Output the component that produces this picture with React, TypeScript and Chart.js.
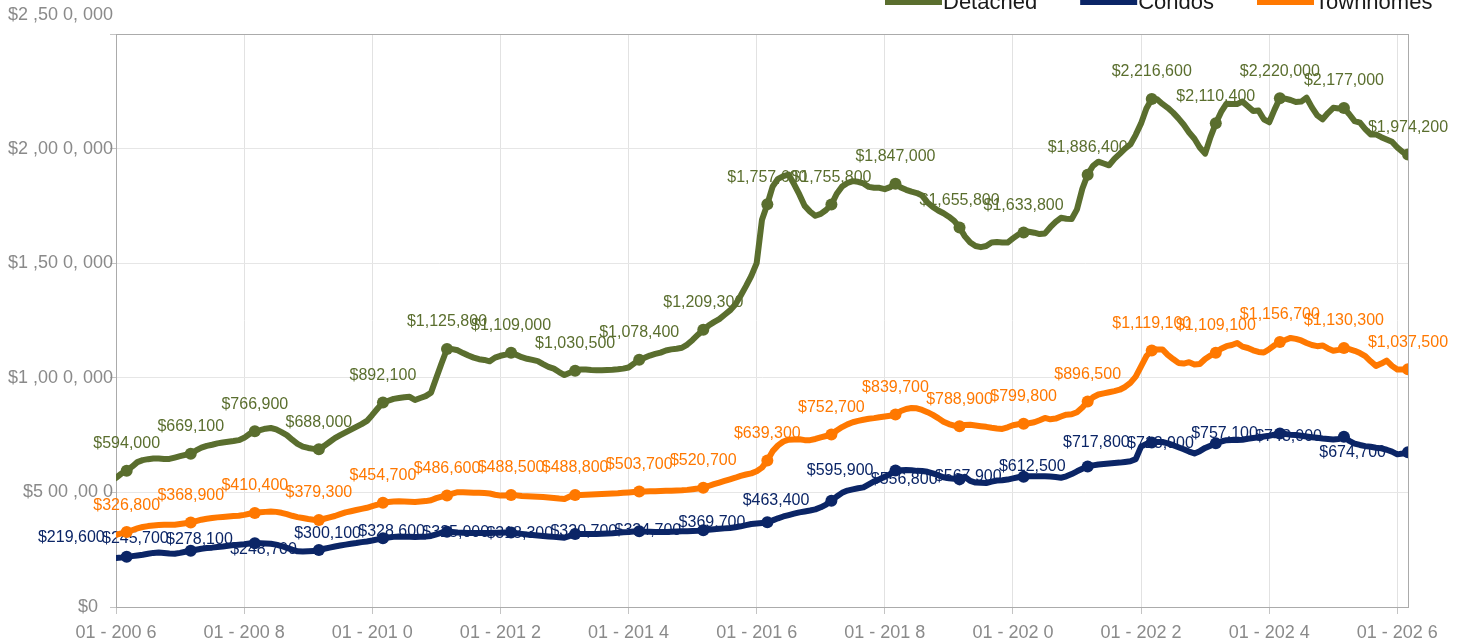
import React, { useEffect, useRef } from 'react';
import { Chart, registerables } from 'chart.js';

Chart.register(...registerables);

const FONT = '"Liberation Sans", Arial, Helvetica, sans-serif';

const SERIES_NAMES = ['Detached', 'Condos', 'Townhomes'];
const COLORS = ['#5a6e2e', '#0b2566', '#ff7800'];

// Monthly values, January 2006 .. March 2026
const DETACHED = [
  563000, 582000, 594000, 612000, 632000, 641000, 645000, 648000, 648000, 646000, 646000, 652000,
  658000, 664000, 669100, 683000, 695000, 703000, 708000, 714000, 718000, 721000, 724000, 728000,
  738000, 755000, 766900, 772000, 778000, 781000, 775000, 763000, 750000, 730000, 712000, 700000,
  694000, 690000, 688000, 703000, 720000, 737000, 750000, 762000, 774000, 786000, 798000, 812000,
  838000, 866000, 892100, 900000, 908000, 912000, 915000, 917000, 903000, 912000, 920000, 935000,
  1000000, 1065000, 1125800, 1125000, 1120000, 1108000, 1097000, 1088000, 1081000, 1078000, 1072000, 1088000,
  1096000, 1101000, 1109000, 1100000, 1090000, 1083000, 1078000, 1073000, 1060000, 1048000, 1040000, 1025000,
  1012000, 1022000, 1030500, 1036000, 1036000, 1034000, 1033000, 1033000, 1034000, 1035000, 1037000, 1040000,
  1045000, 1062000, 1078400, 1087000, 1097000, 1104000, 1110000, 1119000, 1124000, 1127000, 1131000, 1145000,
  1165000, 1188000, 1209300, 1228000, 1243000, 1256000, 1275000, 1294000, 1320000, 1358000, 1400000, 1445000,
  1500000, 1690000, 1757600, 1835000, 1868000, 1880000, 1887000, 1845000, 1800000, 1750000, 1725000, 1707000,
  1715000, 1732000, 1755800, 1803000, 1835000, 1850000, 1858000, 1855000, 1848000, 1833000, 1829000, 1829000,
  1823000, 1832000, 1847000, 1830000, 1820000, 1812000, 1806000, 1795000, 1765000, 1745000, 1730000, 1718000,
  1703000, 1685000, 1655800, 1617000, 1590000, 1575000, 1570000, 1575000, 1590000, 1592000, 1590000, 1590000,
  1608000, 1625000, 1633800, 1637000, 1633000, 1627000, 1630000, 1657000, 1680000, 1698000, 1694000, 1693000,
  1735000, 1825000, 1886400, 1925000, 1943000, 1935000, 1927000, 1955000, 1977000, 2000000, 2018000, 2060000,
  2110000, 2175000, 2216600, 2215000, 2195000, 2178000, 2157000, 2132000, 2104000, 2070000, 2043000, 2005000,
  1978000, 2050000, 2110400, 2160000, 2196000, 2195000, 2195000, 2205000, 2185000, 2164000, 2166000, 2128000,
  2115000, 2170000, 2220000, 2218000, 2212000, 2203000, 2205000, 2222000, 2180000, 2145000, 2128000, 2155000,
  2178000, 2175000, 2177000, 2150000, 2120000, 2113000, 2085000, 2062000, 2062000, 2050000, 2040000, 2030000,
  2005000, 1985000, 1974200,
];

const CONDOS = [
  213500, 216000, 219600, 222000, 225000, 228000, 232000, 236000, 238000, 236000, 233000, 232000,
  236000, 241000, 245700, 250000, 254000, 257000, 259000, 262000, 264000, 267000, 270000, 272000,
  274000, 277000, 278100, 278000, 277000, 276000, 272000, 266000, 258000, 250000, 243000, 242000,
  243000, 244000, 248700, 254000, 259000, 264000, 268000, 272000, 276000, 279000, 283000, 286000,
  290000, 295000, 300100, 303000, 306000, 308000, 307000, 306000, 305000, 306000, 307000, 310000,
  317000, 324000, 328600, 327000, 325000, 324000, 323000, 323000, 323000, 323000, 323000, 324000,
  324000, 325000, 325000, 322000, 319000, 316000, 314000, 312000, 310000, 308000, 306000, 304000,
  302000, 310000, 318300, 318000, 318000, 318000, 319000, 320000, 321000, 322000, 324000, 326000,
  327000, 329000, 330700, 329000, 328000, 327000, 327000, 327000, 328000, 329000, 330000, 331000,
  332000, 333000, 334700, 337000, 339000, 341000, 343000, 345000, 348000, 352000, 357000, 362000,
  364000, 366000, 369700, 378000, 387000, 395000, 401000, 407000, 413000, 417000, 421000, 426000,
  435000, 447000, 463400, 482000, 498000, 508000, 513000, 518000, 522000, 535000, 548000, 557000,
  568000, 580000, 595900, 597000, 598000, 597000, 594000, 593000, 590000, 583000, 575000, 566000,
  562000, 560000, 556800, 568000, 550000, 543000, 542000, 541000, 547000, 552000, 553000, 556000,
  561000, 566000, 567900, 570000, 570000, 570000, 570000, 569000, 567000, 564000, 570000, 580000,
  592000, 603000, 612500, 618000, 622000, 624000, 626000, 628000, 630000, 633000, 636000, 645000,
  700000, 712000, 717800, 720000, 720000, 714000, 706000, 697000, 688000, 678000, 670000, 680000,
  694000, 704000, 713900, 722000, 728000, 729000, 729000, 730000, 734000, 737000, 740000, 744000,
  747000, 752000, 757100, 755000, 752000, 750000, 747000, 744000, 741000, 738000, 735000, 733000,
  731000, 733000, 743000, 725000, 713000, 707000, 702000, 699000, 695000, 692000, 686000, 678000,
  666000, 670000, 674700,
];

const TOWNHOMES = [
  315000, 321000, 326800, 335000, 343000, 349000, 353000, 356000, 358000, 359000, 359000, 359000,
  362000, 365000, 368900, 375000, 381000, 385000, 388000, 391000, 393000, 395000, 397000, 398000,
  402000, 407000, 410400, 413000, 415000, 417000, 415000, 411000, 405000, 398000, 392000, 388000,
  384000, 381000, 379300, 385000, 391000, 397000, 405000, 413000, 418000, 423000, 428000, 433000,
  440000, 447000, 454700, 458000, 460000, 461000, 460000, 459000, 458000, 460000, 462000, 466000,
  475000, 482000, 486600, 495000, 501000, 501000, 500000, 499000, 498000, 497000, 495000, 490000,
  486000, 487000, 488500, 487000, 484000, 483000, 482000, 481000, 480000, 478000, 476000, 473000,
  471000, 482000, 488800, 489000, 490000, 491000, 492000, 493000, 494000, 495000, 496000, 498000,
  500000, 502000, 503700, 504000, 505000, 505000, 506000, 507000, 507000, 508000, 509000, 511000,
  514000, 517000, 520700, 528000, 536000, 543000, 550000, 557000, 564000, 572000, 578000, 583000,
  592000, 608000, 639300, 680000, 705000, 722000, 730000, 731000, 732000, 728000, 728000, 733000,
  740000, 746000, 752700, 770000, 785000, 797000, 806000, 812000, 817000, 821000, 824000, 828000,
  831000, 834000, 839700, 855000, 864000, 868000, 867000, 860000, 850000, 838000, 824000, 808000,
  798000, 791000, 788900, 794000, 795000, 792000, 789000, 786000, 782000, 779000, 777000, 784000,
  793000, 797000, 799800, 802000, 806000, 815000, 825000, 819000, 822000, 831000, 839000, 841000,
  850000, 870000, 896500, 915000, 927000, 932000, 937000, 942000, 948000, 960000, 978000, 1005000,
  1050000, 1095000, 1119100, 1124000, 1124000, 1100000, 1082000, 1065000, 1062000, 1068000, 1058000, 1060000,
  1082000, 1097000, 1109100, 1127000, 1138000, 1143000, 1152000, 1136000, 1130000, 1120000, 1113000, 1110000,
  1125000, 1142000, 1156700, 1165000, 1174000, 1170000, 1163000, 1152000, 1143000, 1138000, 1141000, 1128000,
  1118000, 1122000, 1130300, 1125000, 1118000, 1108000, 1095000, 1072000, 1052000, 1062000, 1075000, 1052000,
  1036000, 1036000, 1037500,
];

const X_TICK_LABELS = [
  '01 - 200 6', '01 - 200 8', '01 - 201 0', '01 - 201 2', '01 - 201 4', '01 - 201 6',
  '01 - 201 8', '01 - 202 0', '01 - 202 2', '01 - 202 4', '01 - 202 6',
];
const X_TICK_STEP = 24; // months between x ticks
const Y_TICK_VALUES = [0, 500000, 1000000, 1500000, 2000000, 2500000];
const Y_TICK_LABELS = ['$0   ', '$5 00 ,00 0', '$1 ,00 0, 000', '$1 ,50 0, 000', '$2 ,00 0, 000', '$2 ,50 0, 000'];
const LABEL_MONTH = 2; // March points carry a marker and a value label

const SERIES = [DETACHED, CONDOS, TOWNHOMES];
const LABEL_PLACEMENT = ['above', 'left', 'above'];
// small vertical nudges (px) for crowded condo labels at the start
const CONDO_LABEL_NUDGE: Record<number, number> = { 2: -19, 14: -12, 26: -4, 50: -5 };

const fmt = (v: number) => '$' + v.toLocaleString('en-US');

const framePlugin = {
  id: 'frame',
  beforeDatasetsDraw(chart: any) {
    const { ctx, chartArea: a } = chart;
    ctx.save();
    ctx.strokeStyle = '#ababab';
    ctx.lineWidth = 1;
    ctx.strokeRect(Math.round(a.left) + 0.5, Math.round(a.top) + 0.5, Math.round(a.right - a.left), Math.round(a.bottom - a.top));
    ctx.restore();
  },
};

const pointLabelPlugin = {
  id: 'pointLabels',
  beforeDatasetsDraw(chart: any) {
    const ctx = chart.ctx;
    ctx.save();
    ctx.font = `16px ${FONT}`;
    ctx.textBaseline = 'middle';
    SERIES.forEach((vals, di) => {
      const meta = chart.getDatasetMeta(di);
      meta.data.forEach((el: any, i: number) => {
        if (i % 12 !== LABEL_MONTH) return;
        const txt = fmt(vals[i]);
        ctx.fillStyle = COLORS[di];
        if (LABEL_PLACEMENT[di] === 'left') {
          ctx.textAlign = 'right';
          ctx.fillText(txt, el.x - 22, el.y + (CONDO_LABEL_NUDGE[i] || 0));
        } else {
          ctx.textAlign = 'center';
          ctx.fillText(txt, el.x, el.y - 27);
        }
      });
    });
    ctx.restore();
  },
};

const axisAndLegendPlugin = {
  id: 'axisAndLegend',
  afterDraw(chart: any) {
    const { ctx, chartArea } = chart;
    const ys = chart.scales.y;
    ctx.save();
    ctx.font = `18px ${FONT}`;
    ctx.fillStyle = '#8a8a8a';
    ctx.textAlign = 'right';
    ctx.textBaseline = 'middle';
    Y_TICK_VALUES.forEach((v, k) => {
      let y = ys.getPixelForValue(v);
      if (k === Y_TICK_VALUES.length - 1) y -= 19;
      ctx.fillText(Y_TICK_LABELS[k], chartArea.left - 3, y);
    });

    // legend (partly above the visible page, as in the reference)
    ctx.font = `22px ${FONT}`;
    ctx.textAlign = 'left';
    ctx.textBaseline = 'alphabetic';
    let x = 885;
    SERIES_NAMES.forEach((name, k) => {
      ctx.fillStyle = COLORS[k];
      ctx.fillRect(x, -16, 57, 21);
      ctx.fillStyle = '#1a1a1a';
      ctx.fillText(name, x + 58, 9);
      x += 58 + ctx.measureText(name).width + 43;
    });
    ctx.restore();
  },
};

export default function App() {
  const ref = useRef<HTMLCanvasElement | null>(null);

  useEffect(() => {
    if (!ref.current) return;
    const n = DETACHED.length;
    const chart = new Chart(ref.current, {
      type: 'line',
      data: {
        datasets: SERIES.map((vals, di) => ({
          label: SERIES_NAMES[di],
          data: vals.map((v, i) => ({ x: i, y: v })),
          borderColor: COLORS[di],
          backgroundColor: COLORS[di],
          borderWidth: 6,
          borderCapStyle: 'round',
          borderJoinStyle: 'round',
          tension: 0,
          pointRadius: vals.map((_, i) => (i % 12 === LABEL_MONTH ? 6 : 0)),
          pointHoverRadius: 0,
          pointBorderWidth: 0,
          pointBackgroundColor: COLORS[di],
        })),
      },
      options: {
        animation: false,
        responsive: false,
        maintainAspectRatio: false,
        devicePixelRatio: 1,
        layout: { padding: { top: 34, right: 56, left: 0, bottom: 0 } },
        plugins: {
          legend: { display: false },
          tooltip: { enabled: false },
        },
        scales: {
          x: {
            type: 'linear',
            min: 0,
            max: n - 1,
            afterBuildTicks: (s: any) => {
              s.ticks = X_TICK_LABELS.map((_, k) => ({ value: k * X_TICK_STEP }));
            },
            afterFit: (s: any) => {
              s.height = 35;
            },
            ticks: {
              autoSkip: false,
              maxRotation: 0,
              padding: 8,
              color: '#8a8a8a',
              font: { family: FONT, size: 18 },
              callback: (v: any) => X_TICK_LABELS[Math.round(Number(v) / X_TICK_STEP)] ?? '',
            },
            grid: { color: '#e2e2e2', tickLength: 7, tickColor: '#c4c4c4' },
            border: { display: true, color: '#ababab' },
          },
          y: {
            min: 0,
            max: 2500000,
            afterBuildTicks: (s: any) => {
              s.ticks = Y_TICK_VALUES.map((v) => ({ value: v }));
            },
            afterFit: (s: any) => {
              s.width = 116;
            },
            ticks: { display: false },
            grid: { color: '#e6e6e6', tickLength: 6, tickColor: '#c4c4c4' },
            border: { display: true, color: '#9a9a9a' },
          },
        },
      } as any,
      plugins: [framePlugin, pointLabelPlugin, axisAndLegendPlugin],
    });
    return () => chart.destroy();
  }, []);

  return (
    <div style={{ position: 'fixed', left: 0, top: 0, width: 1464, height: 642, background: '#fff' }}>
      <canvas ref={ref} width={1464} height={642} style={{ width: 1464, height: 642, display: 'block' }} />
    </div>
  );
}
